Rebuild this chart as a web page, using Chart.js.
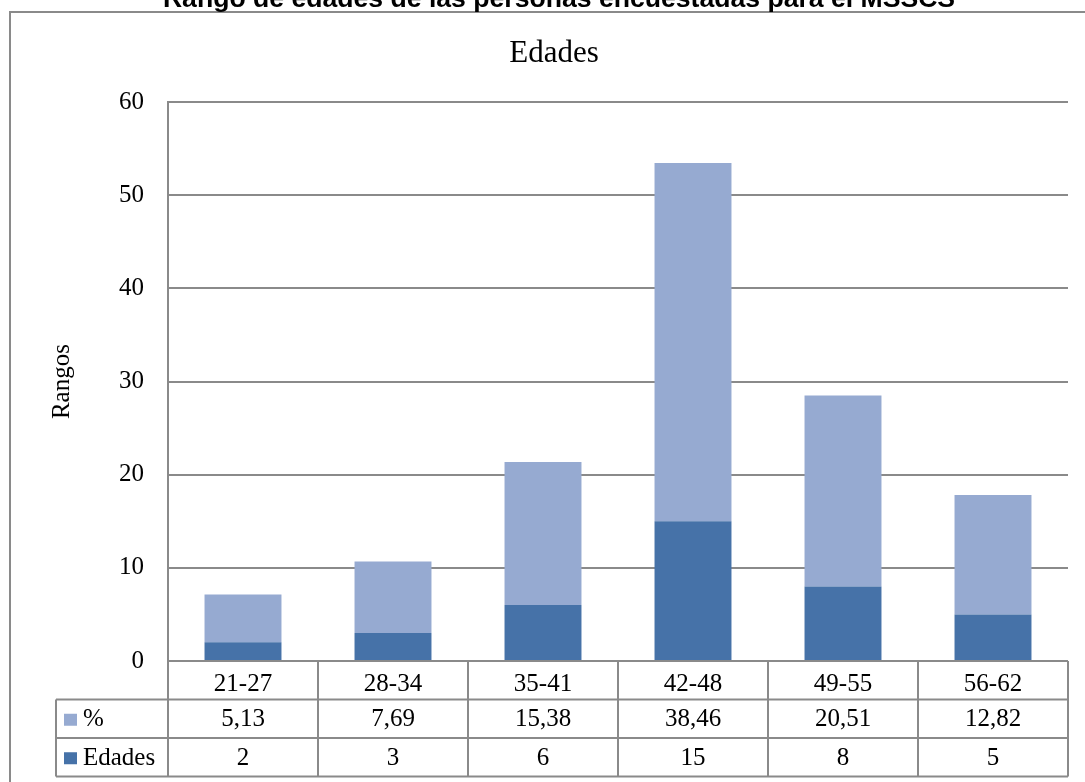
<!DOCTYPE html>
<html>
<head>
<meta charset="utf-8">
<script src="https://cdn.jsdelivr.net/npm/chart.js@4.4.1/dist/chart.umd.min.js"></script>
<style>
    html, body { margin: 0; padding: 0; background: #fff; overflow: hidden; }
    #wrap { position: relative; width: 1085px; height: 782px; }
</style>
</head>
<body>
<div id="wrap"><canvas id="edadesChart" width="1085" height="782"></canvas></div>
<script>
// datos
const rangos = ['21-27', '28-34', '35-41', '42-48', '49-55', '56-62'];
const edades = [2, 3, 6, 15, 8, 5];
const porcentajes = [5.13, 7.69, 15.38, 38.46, 20.51, 12.82];
const yTicks = [0, 10, 20, 30, 40, 50, 60];
const pageTitle = 'Rango de edades de las personas encuestadas para el MSSCS';
const chartTitle = 'Edades';
const axisTitle = 'Rangos';

const serif = '"Liberation Serif", "Times New Roman", serif';
const gridColor = '#8a8a8a';
const darkBlue = '#4672a8';
const lightBlue = '#96aad1';

function formatComma(v) {
    return v.toFixed(2).replace('.', ',');
}

// marco, titulo superior y tabla de datos bajo el eje
const frameAndTable = {
    id: 'frameAndTable',
    beforeDraw(chart) {
        const ctx = chart.ctx;
        ctx.save();
        ctx.fillStyle = '#fff';
        ctx.fillRect(0, 0, chart.width, chart.height);
        ctx.strokeStyle = gridColor;
        ctx.lineWidth = 2;
        ctx.strokeRect(10, 12, chart.width + 20, chart.height + 20);
        ctx.font = 'bold 26.6px "Liberation Sans", Arial, sans-serif';
        ctx.fillStyle = '#000';
        ctx.textAlign = 'center';
        ctx.textBaseline = 'alphabetic';
        ctx.fillText(pageTitle, 559, 7);
        ctx.restore();
    },
    afterDraw(chart) {
        const { ctx, chartArea } = chart;
        const xScale = chart.scales.x;
        const step = xScale.getPixelForValue(1) - xScale.getPixelForValue(0);
        const rowH = 38.5;
        const top = chartArea.bottom;
        const right = chartArea.right;
        const legendLeft = chartArea.left - 112;
        const rows = [
            { label: chart.data.datasets[1].label, color: lightBlue, values: porcentajes.map(formatComma) },
            { label: chart.data.datasets[0].label, color: darkBlue, values: edades.map(String) }
        ];

        ctx.save();
        ctx.strokeStyle = gridColor;
        ctx.lineWidth = 2;
        ctx.beginPath();
        for (let i = 0; i <= rangos.length; i++) {
            const xPos = xScale.getPixelForValue(0) - step / 2 + i * step;
            ctx.moveTo(xPos, top);
            ctx.lineTo(xPos, top + rowH * 3);
        }
        for (let r = 1; r <= 3; r++) {
            ctx.moveTo(legendLeft, top + rowH * r);
            ctx.lineTo(right, top + rowH * r);
        }
        ctx.moveTo(legendLeft, top + rowH);
        ctx.lineTo(legendLeft, top + rowH * 3);
        ctx.stroke();

        ctx.font = '25px ' + serif;
        ctx.textBaseline = 'middle';
        rows.forEach((row, r) => {
            const yMid = top + rowH * (r + 1.5);
            ctx.fillStyle = row.color;
            ctx.fillRect(legendLeft + 8, yMid - 5, 13, 12);
            ctx.fillStyle = '#000';
            ctx.textAlign = 'left';
            ctx.fillText(row.label, legendLeft + 27, yMid + 1);
            ctx.textAlign = 'center';
            row.values.forEach((v, i) => {
                ctx.fillText(v, xScale.getPixelForValue(i), yMid + 1);
            });
        });
        ctx.restore();
    }
};

const ctx = document.getElementById('edadesChart').getContext('2d');
new Chart(ctx, {
    type: 'bar',
    data: {
        labels: rangos,
        datasets: [
            {
                label: 'Edades',
                data: edades,
                backgroundColor: darkBlue,
                barPercentage: 0.513,
                categoryPercentage: 1
            },
            {
                label: '%',
                data: porcentajes,
                backgroundColor: lightBlue,
                barPercentage: 0.513,
                categoryPercentage: 1
            }
        ]
    },
    options: {
        responsive: false,
        animation: false,
        layout: {
            padding: { left: 40, right: 17, top: 12, bottom: 0 }
        },
        plugins: {
            legend: { display: false },
            tooltip: { enabled: false },
            title: {
                display: true,
                text: chartTitle,
                color: '#000',
                font: { family: serif, size: 31, weight: 'normal', lineHeight: 1.2 },
                padding: { top: 23, bottom: 30 }
            }
        },
        scales: {
            x: {
                stacked: true,
                grid: { display: false },
                border: { display: false },
                ticks: {
                    color: '#000',
                    padding: 0,
                    font: { family: serif, size: 25 }
                },
                afterFit(scale) { scale.height = 121; }
            },
            y: {
                stacked: true,
                min: 0,
                max: 60,
                afterBuildTicks(scale) {
                    scale.ticks = yTicks.map(v => ({ value: v }));
                },
                grid: {
                    color: gridColor,
                    lineWidth: 2,
                    drawTicks: false
                },
                border: { display: true, color: gridColor, width: 2 },
                ticks: {
                    color: '#000',
                    padding: 24,
                    font: { family: serif, size: 25 }
                },
                title: {
                    display: true,
                    text: axisTitle,
                    color: '#000',
                    font: { family: serif, size: 25 },
                    padding: { top: 7, bottom: 0 }
                },
                afterFit(scale) { scale.width = 128; }
            }
        }
    },
    plugins: [frameAndTable]
});
</script>
</body>
</html>
